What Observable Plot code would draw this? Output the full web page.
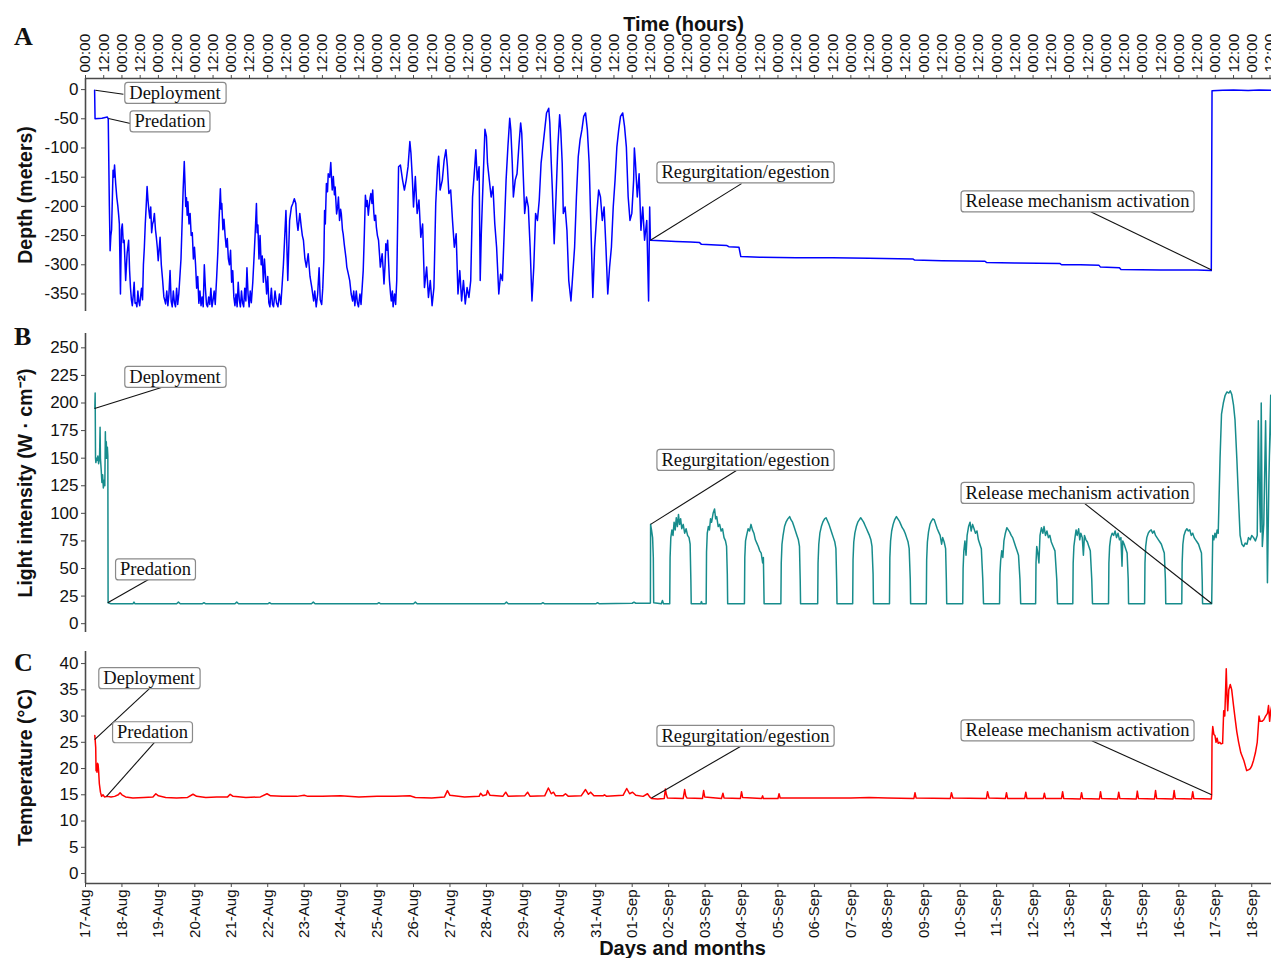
<!DOCTYPE html>
<html><head><meta charset="utf-8">
<script src="https://cdn.jsdelivr.net/npm/d3@7"></script>
<script src="https://cdn.jsdelivr.net/npm/@observablehq/plot@0.6"></script>
<style>
body{margin:0;background:#fff;}
#wrap{position:relative;width:1271px;height:958px;overflow:hidden;background:#fff;}
#wrap svg{position:absolute;left:0;}
.letter{position:absolute;font:bold 26px "Liberation Serif","Times New Roman",serif;color:#111;line-height:1;}
</style></head><body><div id="wrap"></div>
<script>
// ---------- data (day offset from 17-Aug 00:00, value) ----------
const depthSeries = [
[0.25,-1],[0.262,-50],[0.45,-49],[0.60,-47],[0.624,-50],[0.655,-200],[0.675,-276],[0.696,-250],[0.716,-240],[0.756,-138],[0.776,-150],[0.797,-129],[0.827,-160],[0.858,-184],[0.888,-200],[0.91,-215],[0.929,-230],[0.959,-350],[0.985,-240],[1.01,-230],[1.035,-262],[1.061,-258],[1.102,-327],[1.142,-280],[1.183,-258],[1.21,-310],[1.234,-339],[1.26,-360],[1.284,-370],[1.31,-352],[1.335,-330],[1.36,-366],[1.386,-365],[1.41,-372],[1.437,-345],[1.46,-362],[1.487,-370],[1.51,-355],[1.538,-340],[1.565,-360],[1.589,-300],[1.615,-270],[1.64,-230],[1.665,-200],[1.69,-166],[1.715,-190],[1.74,-207],[1.765,-220],[1.79,-201],[1.815,-245],[1.84,-230],[1.865,-225],[1.89,-212],[1.92,-240],[1.944,-253],[1.97,-270],[1.995,-293],[2.02,-275],[2.046,-253],[2.08,-300],[2.117,-327],[2.15,-355],[2.198,-367],
[2.23,-345],[2.26,-370],[2.29,-350],[2.32,-310],[2.35,-362],[2.38,-372],[2.41,-345],[2.44,-365],[2.47,-372],[2.5,-340],[2.53,-368],[2.56,-350],[2.59,-320],[2.62,-290],[2.65,-230],[2.68,-170],[2.71,-123],[2.73,-160],[2.75,-200],[2.77,-185],[2.79,-215],[2.81,-192],[2.84,-230],[2.87,-212],[2.9,-250],[2.93,-245],[2.96,-290],[2.99,-270],[3.02,-300],[3.05,-340],[3.08,-320],[3.11,-366],
[3.14,-345],[3.17,-370],[3.2,-355],[3.23,-372],[3.26,-300],[3.29,-340],[3.32,-368],[3.35,-372],[3.38,-355],[3.41,-368],[3.44,-340],[3.47,-372],[3.5,-360],[3.53,-345],[3.56,-368],[3.6,-320],[3.63,-280],[3.66,-230],[3.70,-170],[3.72,-205],[3.74,-195],[3.77,-240],[3.80,-222],[3.83,-250],[3.86,-270],[3.89,-255],[3.92,-290],[3.95,-300],[3.98,-275],[4.01,-330],[4.04,-310],[4.07,-355],[4.1,-370],
[4.13,-350],[4.16,-372],[4.19,-330],[4.22,-360],[4.25,-372],[4.28,-345],[4.31,-365],[4.34,-372],[4.37,-340],[4.40,-362],[4.43,-305],[4.46,-350],[4.49,-372],[4.52,-345],[4.55,-365],[4.59,-330],[4.63,-280],[4.66,-240],[4.69,-195],[4.71,-245],[4.73,-232],[4.76,-290],[4.79,-250],[4.82,-300],[4.85,-285],[4.88,-330],[4.91,-290],[4.94,-320],[4.97,-350],[5.0,-320],[5.03,-365],[5.06,-372],
[5.1,-340],[5.13,-368],[5.16,-372],[5.2,-345],[5.24,-365],[5.28,-372],[5.32,-350],[5.36,-368],[5.40,-330],[5.43,-300],[5.46,-260],[5.50,-207],[5.55,-327],[5.60,-224],[5.65,-201],[5.69,-195],[5.73,-187],[5.77,-195],[5.80,-225],[5.83,-241],[5.88,-212],[5.92,-235],[5.95,-250],[5.98,-258],[6.02,-290],[6.06,-304],[6.11,-281],[6.16,-320],[6.21,-339],[6.26,-362],
[6.29,-345],[6.33,-372],[6.37,-350],[6.41,-305],[6.44,-360],[6.48,-368],[6.51,-340],[6.54,-290],[6.56,-207],[6.58,-230],[6.61,-161],[6.64,-175],[6.66,-144],[6.70,-150],[6.73,-125],[6.75,-150],[6.77,-172],[6.80,-149],[6.83,-180],[6.85,-167],[6.89,-213],[6.92,-200],[6.94,-184],[6.97,-224],[7.0,-205],[7.02,-213],[7.05,-240],[7.07,-247],[7.10,-265],[7.12,-275],[7.15,-290],[7.17,-304],[7.21,-315],[7.25,-327],[7.29,-350],[7.33,-362],
[7.36,-345],[7.39,-370],[7.43,-345],[7.46,-365],[7.49,-372],[7.53,-350],[7.56,-368],[7.59,-340],[7.62,-310],[7.65,-250],[7.68,-181],[7.71,-200],[7.73,-190],[7.76,-215],[7.78,-201],[7.81,-185],[7.83,-178],[7.86,-195],[7.88,-172],[7.91,-210],[7.93,-224],[7.96,-215],[7.98,-235],[8.01,-250],[8.04,-258],[8.07,-285],[8.09,-304],[8.12,-290],[8.14,-281],[8.17,-310],[8.19,-333],[8.22,-300],[8.24,-264],[8.27,-275],[8.29,-258],[8.32,-300],[8.34,-327],[8.37,-350],[8.39,-362],[8.42,-345],[8.44,-372],[8.46,-360],[8.48,-350],[8.51,-368],[8.54,-327],
[8.59,-132],[8.64,-129],[8.70,-155],[8.75,-172],[8.80,-155],[8.85,-132],[8.90,-89],[8.93,-109],[8.97,-155],[9.00,-201],[9.05,-149],[9.10,-212],[9.15,-189],[9.20,-253],[9.25,-230],[9.30,-339],[9.36,-304],[9.41,-356],[9.46,-327],[9.51,-370],[9.56,-339],[9.61,-195],[9.66,-132],[9.69,-114],[9.73,-172],[9.79,-155],[9.84,-121],[9.89,-103],[9.93,-132],[9.97,-178],[10.02,-172],[10.07,-224],[10.12,-270],[10.17,-247],[10.22,-350],[10.27,-310],[10.32,-362],[10.37,-327],[10.42,-367],[10.47,-339],[10.52,-356],[10.57,-327],[10.62,-184],[10.68,-132],[10.71,-103],[10.75,-155],[10.80,-132],[10.83,-327],[10.86,-247],[10.91,-155],[10.96,-68],[11.0,-80],[11.03,-126],[11.08,-155],[11.13,-184],[11.18,-166],[11.23,-230],[11.28,-270],[11.34,-350],[11.39,-316],[11.44,-327],[11.49,-241],[11.54,-155],[11.59,-98],[11.64,-49],[11.67,-69],[11.71,-126],[11.74,-184],[11.79,-155],[11.84,-144],[11.89,-98],[11.94,-57],[11.97,-75],[12.01,-144],[12.05,-212],[12.10,-184],[12.15,-201],[12.20,-270],[12.25,-362],[12.30,-304],[12.35,-212],[12.40,-224],[12.45,-189],[12.50,-126],[12.55,-98],[12.60,-69],[12.65,-40],[12.71,-32],[12.74,-57],[12.78,-126],[12.81,-172],[12.86,-264],[12.91,-184],[12.96,-98],[13.01,-43],[13.04,-69],[13.08,-126],[13.11,-212],[13.16,-201],[13.21,-241],[13.26,-327],[13.32,-362],[13.37,-316],[13.42,-270],[13.47,-184],[13.52,-115],[13.57,-86],[13.62,-69],[13.67,-46],[13.72,-40],[13.77,-69],[13.82,-126],[13.87,-241],[13.92,-356],[13.97,-270],[14.03,-212],[14.08,-172],[14.13,-184],[14.18,-224],[14.23,-201],[14.28,-270],[14.33,-350],[14.38,-304],[14.43,-270],[14.48,-201],[14.53,-155],[14.58,-98],[14.63,-69],[14.68,-46],[14.74,-40],[14.79,-63],[14.84,-98],[14.89,-184],[14.94,-224],[14.99,-212],[15.04,-155],[15.06,-100],[15.09,-126],[15.14,-184],[15.19,-144],[15.24,-241],[15.29,-201],[15.34,-258],[15.40,-224],[15.45,-362],[15.48,-201],[15.5,-258],
[15.8,-259],[16.2,-260],[16.6,-261],[16.85,-262],[16.9,-265],[17.3,-266],[17.6,-267],[17.65,-269],[17.93,-270],[17.98,-286],[18.5,-287],[19.5,-288],[20.5,-288],[21.5,-289],[22.7,-290],[22.75,-292],[23.5,-293],[24.68,-294],[24.72,-296],[25.5,-297],[26.74,-298],[26.78,-300],[27.3,-300],[27.81,-301],[27.85,-304],[28.37,-305],[28.41,-308],[29.5,-309],[30.5,-309],[30.89,-310],[30.91,-2],[31.2,-1],[31.5,-0.5],[31.9,-1.5],[32.2,-0.8],[32.55,-1]
];

const lightSeries = [
[0.256,195],[0.265,209],[0.275,150],[0.285,146],[0.30,150],[0.32,148],[0.34,152],[0.36,145],[0.385,150],[0.40,178],[0.41,150],[0.43,140],[0.45,128],[0.47,135],[0.49,123],[0.51,130],[0.53,125],[0.545,174],[0.555,150],[0.57,165],[0.585,150],[0.60,160],[0.613,152],[0.62,19],
[0.7,18],[1.3,18],[1.33,19.5],[1.36,18],[2.5,18],[2.55,19.5],[2.6,18],[3.2,18],[3.25,19],[3.3,18],[4.1,18],[4.15,19.5],[4.2,18],[5.0,18],[5.05,19],[5.1,18],[6.2,18],[6.25,19.5],[6.3,18],[8.0,18],[8.05,19],[8.1,18],[9.0,18],[9.05,19.5],[9.1,18],[11.5,18],[11.55,19.5],[11.6,18],[12.5,18],[12.55,19],[12.6,18],[14.0,18],[14.05,19],[14.1,18],[15.0,18.5],[15.05,19.5],[15.1,18.5],[15.49,18.5],
[15.5,19],[15.505,90],[15.53,85],[15.56,78],[15.58,60],[15.59,19],[15.8,18],[15.83,21],[15.86,18],
[16.03,18],[16.04,60],[16.06,78],[16.09,85],[16.12,80],[16.15,92],[16.18,85],[16.21,96],[16.24,88],[16.27,99],[16.30,90],[16.33,95],[16.36,86],[16.40,90],[16.44,82],[16.48,86],[16.52,80],[16.56,78],[16.59,72],[16.61,40],[16.62,18],[16.88,18],[16.9,20],[16.92,18],
[17.03,18],[17.04,65],[17.06,82],[17.09,88],[17.12,85],[17.15,95],[17.18,92],[17.22,100],[17.26,104],[17.29,95],[17.32,97],[17.36,88],[17.40,90],[17.44,84],[17.48,86],[17.52,78],[17.56,75],[17.59,70],[17.61,45],[17.62,18],
[18.08,18],[18.09,60],[18.11,75],[18.14,80],[18.18,86],[18.22,84],[18.26,90],[18.30,85],[18.34,82],[18.38,76],[18.42,73],[18.46,70],[18.50,66],[18.54,64],[18.58,55],[18.60,60],[18.62,18],
[19.08,18],[19.09,55],[19.11,72],[19.14,80],[19.18,88],[19.22,92],[19.27,95],[19.32,97],[19.36,94],[19.40,92],[19.44,88],[19.48,84],[19.52,80],[19.56,76],[19.59,70],[19.61,40],[19.62,18],
[20.09,18],[20.10,55],[20.12,72],[20.15,82],[20.19,88],[20.23,92],[20.28,95],[20.32,96],[20.36,93],[20.40,90],[20.44,86],[20.48,82],[20.52,78],[20.56,74],[20.59,68],[20.61,40],[20.62,18],
[21.05,18],[21.06,58],[21.08,74],[21.11,82],[21.15,88],[21.19,92],[21.23,94],[21.27,96],[21.31,94],[21.35,92],[21.39,89],[21.43,86],[21.47,83],[21.51,80],[21.55,76],[21.58,70],[21.61,45],[21.62,18],
[22.06,18],[22.07,60],[22.09,75],[22.12,84],[22.16,90],[22.20,94],[22.25,97],[22.29,95],[22.33,93],[22.37,90],[22.41,87],[22.45,85],[22.49,82],[22.53,78],[22.57,74],[22.60,68],[22.63,40],[22.64,18],
[23.07,18],[23.08,58],[23.10,74],[23.13,83],[23.17,90],[23.21,93],[23.25,95],[23.29,94],[23.33,90],[23.37,86],[23.41,83],[23.45,80],[23.49,72],[23.52,78],[23.56,74],[23.60,68],[23.62,40],[23.63,18],
[24.07,18],[24.08,50],[24.10,66],[24.13,75],[24.16,62],[24.19,80],[24.23,88],[24.27,92],[24.30,84],[24.34,90],[24.38,86],[24.42,82],[24.46,84],[24.50,76],[24.54,72],[24.58,68],[24.62,40],[24.64,18],
[25.08,18],[25.09,45],[25.11,57],[25.14,66],[25.17,60],[25.20,75],[25.24,82],[25.28,87],[25.32,85],[25.36,83],[25.40,80],[25.44,78],[25.48,74],[25.52,70],[25.56,66],[25.60,62],[25.64,40],[25.66,18],
[26.07,18],[26.08,55],[26.10,70],[26.13,64],[26.16,55],[26.19,80],[26.23,87],[26.27,82],[26.30,88],[26.34,80],[26.38,84],[26.42,78],[26.46,80],[26.50,74],[26.55,70],[26.60,66],[26.65,40],[26.67,18],
[27.09,18],[27.10,55],[27.12,70],[27.15,78],[27.18,85],[27.21,80],[27.25,86],[27.28,76],[27.31,82],[27.35,78],[27.38,62],[27.41,80],[27.45,76],[27.49,74],[27.53,70],[27.57,66],[27.61,40],[27.63,18],
[28.07,18],[28.08,55],[28.10,70],[28.13,78],[28.17,82],[28.21,80],[28.25,84],[28.29,78],[28.33,82],[28.37,76],[28.41,78],[28.44,52],[28.46,75],[28.50,72],[28.54,68],[28.58,64],[28.61,40],[28.62,18],
[29.06,18],[29.07,55],[29.09,70],[29.12,78],[29.16,82],[29.20,84],[29.24,85],[29.28,82],[29.32,84],[29.36,80],[29.40,78],[29.44,76],[29.48,74],[29.52,72],[29.56,68],[29.60,64],[29.63,40],[29.64,18],
[30.08,18],[30.09,55],[30.11,72],[30.14,80],[30.18,84],[30.22,86],[30.26,84],[30.30,85],[30.34,80],[30.38,82],[30.42,78],[30.46,76],[30.50,74],[30.54,72],[30.58,68],[30.62,64],[30.64,40],[30.65,18],
[30.9,18],[30.93,80],[30.96,76],[30.99,82],[31.02,78],[31.05,85],[31.08,82],[31.13,150],[31.17,190],[31.22,200],[31.27,207],[31.32,210],[31.37,209],[31.41,211],[31.45,208],[31.5,198],[31.54,185],[31.59,150],[31.64,110],[31.68,80],[31.73,72],[31.78,70],[31.82,73],[31.87,72],[31.91,78],[31.96,76],[32.0,80],[32.05,78],[32.1,75],[32.15,80],[32.18,184],[32.21,120],[32.24,83],[32.26,200],[32.29,70],[32.33,90],[32.38,184],[32.41,110],[32.43,37],[32.47,130],[32.52,207],[32.55,150]
];

const tempSeries = [
[0.255,26.3],[0.265,25.5],[0.28,24],[0.29,19.6],[0.305,20.3],[0.315,19.3],[0.33,21],[0.345,20.8],[0.36,19.5],[0.38,17.1],[0.41,15.5],[0.44,14.7],[0.48,15],[0.52,14.6],[0.6,14.7],[0.7,14.6],[0.8,14.7],[0.9,15.0],[0.95,15.4],[1.0,15.0],[1.1,14.6],[1.3,14.4],[1.6,14.5],[1.85,14.6],[1.93,15.2],[2.0,14.8],[2.2,14.5],[2.5,14.4],[2.8,14.5],[2.95,15.1],[3.05,14.7],[3.3,14.5],[3.6,14.6],[3.9,14.6],[3.97,15.1],[4.05,14.7],[4.4,14.5],[4.8,14.6],[4.98,15.2],[5.08,14.8],[5.4,14.7],[5.8,14.7],[6.0,14.9],[6.1,14.7],[6.5,14.7],[7.0,14.8],[7.5,14.6],[8.0,14.7],[8.5,14.7],[8.9,14.8],[9.05,14.5],[9.5,14.4],[9.85,14.6],[9.93,15.8],[10.0,14.9],[10.4,14.6],[10.8,14.7],[10.84,15.3],[10.9,14.8],[11.0,15.0],[11.03,15.8],[11.1,14.9],[11.45,14.7],[11.53,15.5],[11.6,14.7],[12.05,14.8],[12.13,15.5],[12.2,14.7],[12.6,14.8],[12.7,16.3],[12.78,15.2],[12.84,15.5],[12.9,14.8],[13.1,14.8],[13.17,15.2],[13.25,14.7],[13.6,14.8],[13.72,16.0],[13.8,15.1],[13.86,15.5],[13.95,14.8],[14.2,14.8],[14.24,15.0],[14.3,14.7],[14.75,14.9],[14.85,16.2],[14.93,15.2],[15.01,15.5],[15.1,14.9],[15.3,14.7],[15.42,15.2],[15.48,14.6],[15.53,14.3],
[15.7,14.2],[15.88,14.3],[15.91,16.1],[15.94,15.0],[15.97,14.4],[16.4,14.3],[16.44,16.0],[16.47,14.8],[16.5,14.4],[16.93,14.3],[16.96,15.8],[16.99,14.6],[17.45,14.3],[17.49,15.3],[17.52,14.4],[17.97,14.3],[18.0,15.6],[18.03,14.5],[18.55,14.3],[18.58,14.8],[18.6,14.3],[19.0,14.3],[19.03,15.2],[19.06,14.4],[20.5,14.4],[21.0,14.4],[21.5,14.5],[22.0,14.4],[22.73,14.3],[22.76,15.4],[22.79,14.4],[23.73,14.3],[23.76,15.4],[23.8,14.4],[24.72,14.3],[24.75,15.6],[24.79,14.4],[25.24,14.3],[25.27,15.4],[25.3,14.3],[25.77,14.3],[25.8,15.5],[25.83,14.3],[26.28,14.3],[26.31,15.3],[26.34,14.3],[26.78,14.3],[26.81,15.6],[26.84,14.3],[27.3,14.2],[27.33,15.4],[27.36,14.3],[27.82,14.2],[27.85,15.6],[27.88,14.3],[28.32,14.2],[28.35,15.5],[28.38,14.3],[28.83,14.2],[28.86,15.7],[28.89,14.3],[29.33,14.2],[29.36,15.8],[29.39,14.3],[29.84,14.2],[29.87,15.8],[29.9,14.3],[30.35,14.2],[30.38,15.6],[30.41,14.3],[30.89,14.2],[30.9,15.0],
[30.91,26],[30.93,28],[30.96,26.5],[30.99,26.3],[31.02,25],[31.05,25.8],[31.08,24.8],[31.12,25],[31.16,24.7],[31.2,24.8],[31.23,31],[31.26,30],[31.3,39],[31.32,34],[31.34,31],[31.37,35],[31.41,36],[31.45,35],[31.5,32],[31.54,29.7],[31.59,27],[31.64,25],[31.7,23],[31.78,21.6],[31.86,19.6],[31.92,19.8],[31.96,20],[32.0,20.5],[32.05,21.6],[32.1,23],[32.15,25],[32.18,28],[32.2,30],[32.23,29],[32.28,29],[32.33,29.3],[32.38,30],[32.43,30.5],[32.46,32],[32.49,29],[32.52,31],[32.55,32]
];

// annotations: label, anchor (day, value), leader end (day, value), box centre (day, value)
const depthNotes = [
  {label:"Deployment", day:0.27, value:-1, endDay:1.04, endValue:-8, boxDay:2.456, boxValue:-5.8},
  {label:"Predation", day:0.63, value:-49.5, endDay:1.235, endValue:-58, boxDay:2.319, boxValue:-54.6},
  {label:"Regurgitation/egestion", day:15.5, value:-258, endDay:18.0, endValue:-161, boxDay:18.11, boxValue:-142},
  {label:"Release mechanism activation", day:30.9, value:-309, endDay:27.58, endValue:-209, boxDay:27.22, boxValue:-191.6}
];
const lightNotes = [
  {label:"Deployment", day:0.25, value:195, endDay:2.17, endValue:215, boxDay:2.456, boxValue:223.6},
  {label:"Predation", day:0.61, value:19, endDay:1.73, endValue:40, boxDay:1.921, boxValue:49.1},
  {label:"Regurgitation/egestion", day:15.505, value:90, endDay:17.86, endValue:138.8, boxDay:18.11, boxValue:148.3},
  {label:"Release mechanism activation", day:30.9, value:18.3, endDay:27.41, endValue:109, boxDay:27.22, boxValue:118.4}
];
const tempNotes = [
  {label:"Deployment", day:0.25, value:25.5, endDay:1.784, endValue:35.4, boxDay:1.743, boxValue:37.2},
  {label:"Predation", day:0.576, value:14.7, endDay:1.894, endValue:25.0, boxDay:1.839, boxValue:26.9},
  {label:"Regurgitation/egestion", day:15.53, value:14.4, endDay:17.97, endValue:24.2, boxDay:18.11, boxValue:26.2},
  {label:"Release mechanism activation", day:30.9, value:15.0, endDay:27.61, endValue:25.3, boxDay:27.22, boxValue:27.25}
];

const depthTicks = [0,-50,-100,-150,-200,-250,-300,-350];
const lightTicks = [0,25,50,75,100,125,150,175,200,225,250];
const tempTicks = [0,5,10,15,20,25,30,35,40];
const panelTitles = ["Depth (meters)", "Light intensity (W \u00B7 cm\u207B\u00B2)", "Temperature (\u00B0C)"];
const panelLetters = ["A","B","C"];

// ---------- setup ----------
const SANS = "Liberation Sans, Arial, Helvetica, sans-serif";
const SERIF = "Liberation Serif, Times New Roman, serif";
const AXIS = "#4a4a4a";
const t0 = new Date(Date.UTC(2020,7,17));
const t1 = new Date(Date.UTC(2020,8,18,13));
const toDate = d => new Date(t0.getTime() + d*864e5);
const rows = s => s.map(([d,v]) => ({t: toDate(d), v}));
const hourTicks = d3.utcHour.every(12).range(t0, t1);
const dayTicks = d3.utcDay.range(t0, t1);

function noteMarks(notes){
  return [
    Plot.link(notes, {x1: d=>toDate(d.day), y1:"value", x2: d=>toDate(d.endDay), y2:"endValue", stroke:"#111", strokeWidth:1.1}),
    Plot.text(notes, {x: d=>toDate(d.boxDay), y:"boxValue", text:"label", fontFamily: SERIF, fontSize: 18.5, fill:"#111", className:"note"})
  ];
}
function yTitle(title){
  return Plot.text([title], {text: d=>d, frameAnchor:"left", dx:-60, rotate:-90, textAnchor:"middle", lineAnchor:"middle", fontFamily:SANS, fontWeight:"bold", fontSize:19.5, fill:"#111"});
}
function yAxis(ticks){
  return Plot.axisY({ticks, tickFormat: d=>String(d), tickSize:4, tickPadding:3, fontSize:17, label:null, stroke:AXIS, fill:"#111", fontFamily:SANS});
}
const base = {width:1271, marginLeft:85, marginRight:0, style:{fontFamily:SANS, background:"transparent", overflow:"visible", color:"#111"}};

const plotA = Plot.plot({...base, height:318, marginTop:78, marginBottom:7,
  x:{type:"utc", domain:[t0,t1], axis:null}, y:{domain:[-380,19], axis:null},
  marks:[
    Plot.axisX({anchor:"top", ticks:hourTicks, tickFormat:d3.utcFormat("%H:%M"), tickRotate:-90, tickSize:4, tickPadding:2, fontSize:15.5, label:null, stroke:AXIS, fill:"#111", fontFamily:SANS}),
    yAxis(depthTicks),
    Plot.ruleX([t0], {stroke:AXIS, strokeWidth:1.6}),
    Plot.ruleY([19], {stroke:AXIS, strokeWidth:1.6}),
    Plot.line(rows(depthSeries), {x:"t", y:"v", stroke:"#0000ff", strokeWidth:1.5}),
    ...noteMarks(depthNotes),
    Plot.text(["Time (hours)"], {text:d=>d, frameAnchor:"top", dy:-54, dx:5, lineAnchor:"middle", textAnchor:"middle", fontFamily:SANS, fontWeight:"bold", fontSize:20, fill:"#111"}),
    yTitle(panelTitles[0])
  ]});

const plotB = Plot.plot({...base, height:322, marginTop:15, marginBottom:8,
  x:{type:"utc", domain:[t0,t1], axis:null}, y:{domain:[-8,263], axis:null},
  marks:[
    yAxis(lightTicks),
    Plot.ruleX([t0], {stroke:AXIS, strokeWidth:1.6}),
    Plot.line(rows(lightSeries), {x:"t", y:"v", stroke:"#178c8c", strokeWidth:1.5}),
    ...noteMarks(lightNotes),
    yTitle(panelTitles[1])
  ]});

const plotC = Plot.plot({...base, height:318, marginTop:11, marginBottom:75,
  x:{type:"utc", domain:[t0,t1], axis:null}, y:{domain:[-1.9,42.3], axis:null},
  marks:[
    Plot.axisX({anchor:"bottom", ticks:dayTicks, tickFormat:d3.utcFormat("%d-%b"), tickRotate:-90, tickSize:4, tickPadding:2, fontSize:15, label:null, stroke:AXIS, fill:"#111", fontFamily:SANS}),
    yAxis(tempTicks),
    Plot.ruleX([t0], {stroke:AXIS, strokeWidth:1.6}),
    Plot.ruleY([-1.9], {stroke:AXIS, strokeWidth:1.6}),
    Plot.line(rows(tempSeries), {x:"t", y:"v", stroke:"#ff0000", strokeWidth:1.5}),
    ...noteMarks(tempNotes),
    Plot.text(["Days and months"], {text:d=>d, frameAnchor:"bottom", dy:65, dx:4, lineAnchor:"middle", textAnchor:"middle", fontFamily:SANS, fontWeight:"bold", fontSize:20, fill:"#111"}),
    yTitle(panelTitles[2])
  ]});

const wrap = document.getElementById("wrap");
[[plotA,0],[plotB,318],[plotC,640]].forEach(([p,top]) => {
  p.style.top = top + "px";
  wrap.appendChild(p);
  boxNotes(p);
});
[[panelLetters[0],24],[panelLetters[1],324],[panelLetters[2],650]].forEach(([l,top]) => {
  const div = document.createElement("div");
  div.className = "letter"; div.textContent = l;
  div.style.left = "14px"; div.style.top = top + "px";
  wrap.appendChild(div);
});

function boxNotes(svg){
  const texts = new Set([...svg.querySelectorAll("g.note text"), ...svg.querySelectorAll('g[font-family*="Serif"] text')]);
  texts.forEach(t => {
    const b = t.getBBox();
    const r = document.createElementNS("http://www.w3.org/2000/svg","rect");
    r.setAttribute("x", b.x - 4.5); r.setAttribute("y", b.y - 0.5);
    r.setAttribute("width", b.width + 9); r.setAttribute("height", b.height + 1);
    r.setAttribute("rx", 3); r.setAttribute("fill", "#fff");
    r.setAttribute("stroke", "#8a8a8a"); r.setAttribute("stroke-width", 1.2);
    if (t.getAttribute("transform")) r.setAttribute("transform", t.getAttribute("transform"));
    t.parentNode.insertBefore(r, t);
  });
}
</script></body></html>
